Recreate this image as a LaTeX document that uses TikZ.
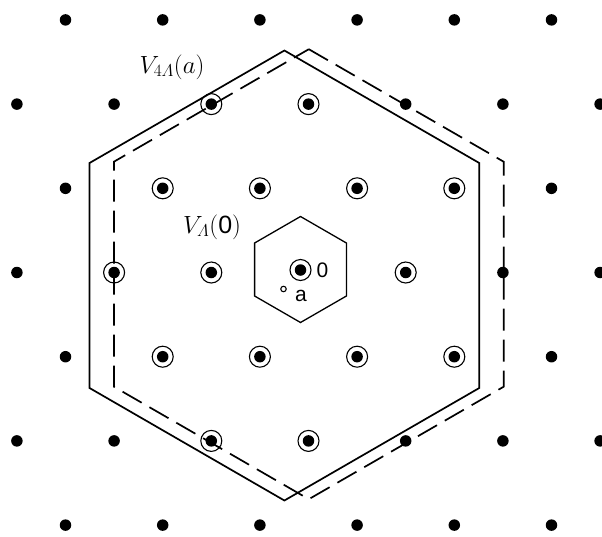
\documentclass[tikz,border=0pt]{standalone}
\usepackage{amsmath}
\usepackage{fontspec}
\usetikzlibrary{calc}
\newfontfamily\lsans{Liberation Sans}
\begin{document}
\begin{tikzpicture}[x=1pt,y=-1pt,
  latdot/.style={circle,fill=black,inner sep=0pt,minimum size=11.5pt},
  ring/.style={circle,draw=black,line width=1.1pt,inner sep=0pt,minimum size=21pt},
  hexsolid/.style={line width=1.7pt,line join=miter},
  hexdash/.style={line width=1.7pt,dash pattern=on 22pt off 9pt},
  cellhex/.style={line width=1.3pt,line join=miter},
  mathlbl/.style={inner sep=0pt,font=\fontsize{25}{28}\selectfont},
  sanslbl/.style={inner sep=0pt,font=\lsans\fontsize{21}{24}\selectfont}]
\useasboundingbox (0,0) rectangle (602,536);
\fill[white] (0,0) rectangle (602,536);
% lattice points
\foreach \k in {-2,0,2}{
  \foreach \n in {-3,...,3}{
    \pgfmathsetmacro{\px}{308.5+\n*97.2}
    \pgfmathsetmacro{\py}{272.5-\k*84.2}
    \ifnum\k=0 \ifnum\n=0 \else
      \node[latdot] (p\k\n) at (\px,\py) {};
    \fi\else
      \node[latdot] (p\k\n) at (\px,\py) {};
    \fi
  }}
\foreach \k in {-3,-1,1,3}{
  \foreach \n in {-3,...,2}{
    \pgfmathsetmacro{\px}{357.1+\n*97.2}
    \pgfmathsetmacro{\py}{272.5-\k*84.2}
    \node[latdot] (q\k\n) at (\px,\py) {};
  }}
% centre point
\node[latdot] (zero) at (300.5,270) {};
\node[ring] (zeroring) at (zero) {};
% circled points
\foreach \nm in {p2-1,p20,q1-2,q1-1,q10,q11,p0-2,p0-1,p01,q-1-2,q-1-1,q-10,q-11,p-2-1,p-20}{
  \node[ring] (r\nm) at (\nm) {};
}
% small hexagon V_Lambda(0)
\foreach \i in {0,...,5}{
  \coordinate (c\i) at ($(300.5,269.5)+({90+60*\i}:53)$);
}
% solid hexagon V_{4Lambda}(a)
\foreach \i in {0,...,5}{
  \coordinate (s\i) at ($(284.4,275.5)+({-90+60*\i}:225)$);
}
% dashed hexagon
\foreach \i in {0,...,5}{
  \coordinate (d\i) at ($(308.8,274.2)+({-90+60*\i}:225)$);
}
\draw[cellhex] (c0)--(c1)--(c2)--(c3)--(c4)--(c5)--cycle;
\draw[hexsolid] (s0)--(s1)--(s2)--(s3)--(s4)--(s5)--cycle;
\draw[hexdash] (d0)--(d1)--(d2)--(d3)--(d4)--(d5)--cycle;
% point a
\node[circle,draw=black,line width=1.1pt,inner sep=0pt,minimum size=5.5pt] (apt) at (283.5,289) {};
% labels
\node[sanslbl,anchor=west] (lzero) at (316.5,270.5) {0};
\node[sanslbl,anchor=west] (la) at (295,295.5) {a};
\node[mathlbl] (lbig) at (172,67) {$V_{4\varLambda}(a)$};
\node[mathlbl] (lsmall) at (212,227) {$V_{\varLambda}($\lsans 0$)$};
\end{tikzpicture}
\end{document}
